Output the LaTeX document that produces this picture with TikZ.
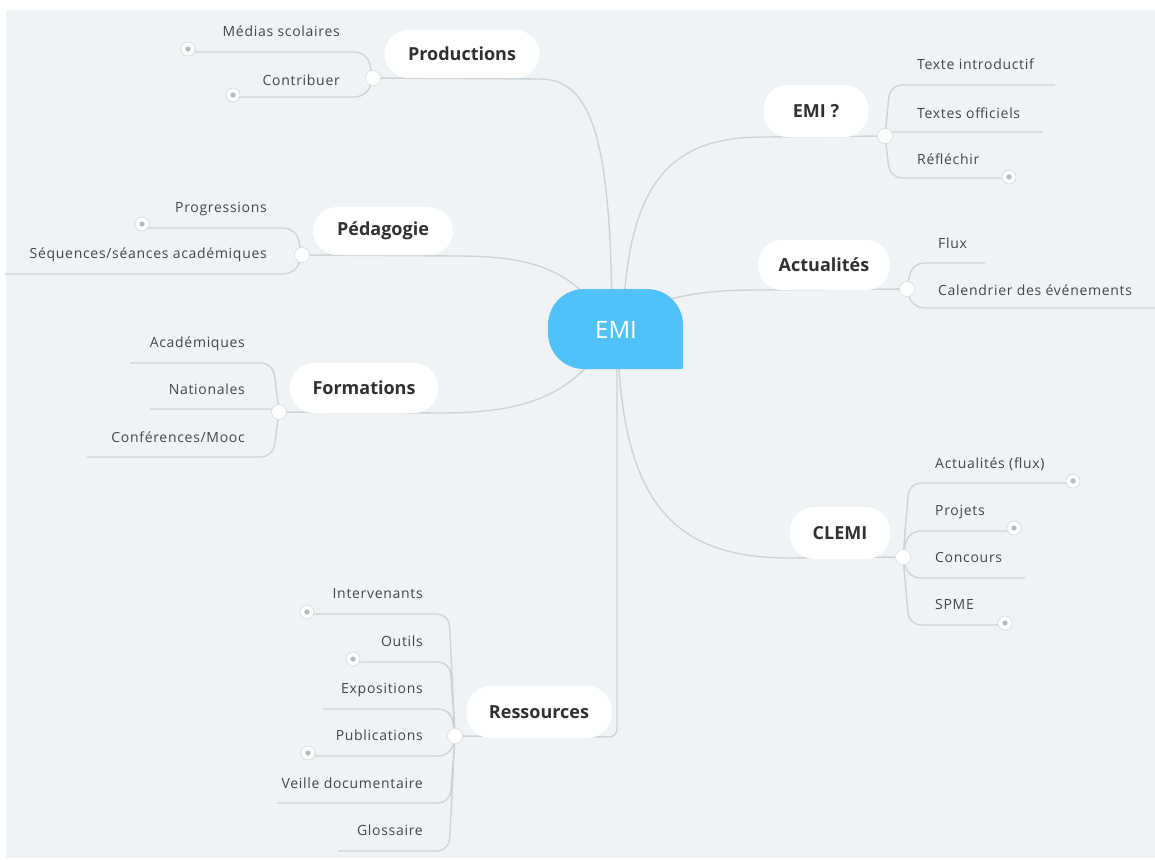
\documentclass[tikz,border=0pt]{standalone}
\usepackage{fontspec}
\setmainfont{Open Sans}
\newfontfamily\childfont[LetterSpace=5]{Open Sans}
\definecolor{bgc}{HTML}{EFF3F6}
\definecolor{linec}{HTML}{CDD2D7}
\definecolor{txtc}{HTML}{454545}
\definecolor{boldc}{HTML}{303030}
\definecolor{emic}{HTML}{50C2F8}
\definecolor{dotc}{HTML}{B4B9BE}
\tikzset{
  conn/.style={draw=linec, line width=1.4pt},
  sub/.style={draw=linec, line width=1.4pt, rounded corners=12pt},
  pill/.style={fill=white, rounded corners=24pt, inner sep=0pt, font=\fontsize{18}{20}\selectfont\bfseries, text=boldc},
  junc/.style={circle, fill=white, draw=linec!70, line width=0.6pt, minimum size=15pt, inner sep=0pt},
  coll/.style={circle, fill=white, draw=linec!80, line width=0.6pt, minimum size=14pt, inner sep=0pt,
     path picture={\fill[dotc] (path picture bounding box.center) circle (2.6pt);}},
  lt/.style={font=\childfont\fontsize{14}{16}\selectfont, text=txtc, inner sep=0pt},
}
\begin{document}
\begin{tikzpicture}[x=1pt,y=-1pt]
\useasboundingbox (0,0) rectangle (1155,859);
\fill[white] (0,0) rectangle (1155,859);
\fill[bgc] (6,10) rectangle (1155,858);

% ---- coordinates ----
\coordinate (o-prod) at (612,320);
\coordinate (o-emiq) at (623,320);
\coordinate (o-peda) at (600,312);
\coordinate (o-actu) at (650,305);
\coordinate (o-form) at (600,350);
\coordinate (o-clemi) at (618,350);
\coordinate (o-res) at (617,340);

% junctions
\node[junc] (jP) at (373,78) {};
\node[junc] (jPe) at (302,255) {};
\node[junc] (jF) at (279,412) {};
\node[junc] (jR) at (455,736) {};
\node[junc] (jE) at (885,136) {};
\node[junc] (jA) at (907,289) {};
\node[junc] (jC) at (903,557) {};

% ---- main connectors ----
\draw[conn] (o-prod) .. controls (611,140) and (592,79) .. (540,79) -- (jP.center);
\draw[conn] (o-emiq) .. controls (628,170) and (680,137) .. (765,137) -- (jE.center);
\draw[conn] (o-peda) .. controls (565,264) and (520,256) .. (455,256) -- (jPe.center);
\draw[conn] (o-actu) .. controls (690,292) and (720,290) .. (760,290) -- (jA.center);
\draw[conn] (o-form) .. controls (565,400) and (515,413) .. (440,413) -- (jF.center);
\draw[conn] (o-clemi) .. controls (624,510) and (680,558) .. (790,558) -- (jC.center);
\draw[conn, rounded corners=8pt] (o-res) -- (617,737) -- (jR.center);

% ---- central bubble ----
\fill[emic, rounded corners=36pt] (683,369) -- (548,369) -- (548,289) -- (683,289) -- (683,369);
\node[font=\fontsize{24}{28}\selectfont, text=white] (emi) at (616,330) {EMI};

% ---- sub connectors: Productions ----
\coordinate (e-medias) at (193,52);
\coordinate (e-contrib) at (238,97);
\node[coll] (c-medias) at (188,49) {};
\node[coll] (c-contrib) at (233,95) {};
\draw[sub] (jP.center) -- (367,52) -- (e-medias);
\draw[sub] (jP.center) -- (367,97) -- (e-contrib);

% Pédagogie
\coordinate (e-prog) at (147,228);
\coordinate (e-seq) at (5,274);
\node[coll] (c-prog) at (142,224) {};
\draw[sub] (jPe.center) -- (296,228) -- (e-prog);
\draw[sub] (jPe.center) -- (296,274) -- (e-seq);

% Formations
\coordinate (e-acad) at (130,363);
\coordinate (e-nat) at (150,409);
\coordinate (e-conf) at (87,457);
\draw[sub] (jF.center) -- (273,363) -- (e-acad);
\draw[sub, rounded corners=3pt] (jF.center) -- (276,409) -- (e-nat);
\draw[sub] (jF.center) -- (273,457) -- (e-conf);

% Ressources
\coordinate (e-inter) at (312,614);
\coordinate (e-outils) at (358,662);
\coordinate (e-expo) at (323,709);
\coordinate (e-publi) at (313,756);
\coordinate (e-veille) at (277,803);
\coordinate (e-gloss) at (338,851);
\node[coll] (c-inter) at (307,612) {};
\node[coll] (c-outils) at (353,659) {};
\node[coll] (c-publi) at (308,753) {};
\draw[sub] (jR.center) -- (449,614) -- (e-inter);
\draw[sub] (jR.center) -- (450,662) -- (e-outils);
\draw[sub] (jR.center) -- (451,709) -- (e-expo);
\draw[sub] (jR.center) -- (451,756) -- (e-publi);
\draw[sub] (jR.center) -- (450,803) -- (e-veille);
\draw[sub] (jR.center) -- (449,851) -- (e-gloss);

% EMI ?
\coordinate (e-intro) at (1055,85);
\coordinate (e-off) at (1043,132);
\coordinate (e-refl) at (1004,178);
\node[coll] (c-refl) at (1009,177) {};
\draw[sub] (jE.center) -- (890,85) -- (e-intro);
\draw[sub, rounded corners=3pt] (jE.center) -- (888,132) -- (e-off);
\draw[sub] (jE.center) -- (890,178) -- (e-refl);

% Actualités
\coordinate (e-flux) at (985,263);
\coordinate (e-cal) at (1155,308);
\draw[sub] (jA.center) -- (912,263) -- (e-flux);
\draw[sub] (jA.center) -- (912,308) -- (e-cal);

% CLEMI
\coordinate (e-aflux) at (1068,483);
\coordinate (e-proj) at (1009,531);
\coordinate (e-conc) at (1025,578);
\coordinate (e-spme) at (1000,625);
\node[coll] (c-aflux) at (1073,481) {};
\node[coll] (c-proj) at (1014,528) {};
\node[coll] (c-spme) at (1005,623) {};
\draw[sub] (jC.center) -- (909,483) -- (e-aflux);
\draw[sub] (jC.center) -- (908,531) -- (e-proj);
\draw[sub] (jC.center) -- (908,578) -- (e-conc);
\draw[sub] (jC.center) -- (909,625) -- (e-spme);

% redraw collapse markers on top of lines
\foreach \c in {c-medias,c-contrib,c-prog,c-inter,c-outils,c-publi,c-refl,c-aflux,c-proj,c-spme}{
  \node[coll] at (\c) {};
}

% ---- pills ----
\node[pill, minimum width=155pt, minimum height=48pt] (prod) at (462,54) {Productions};
\node[pill, minimum width=140pt, minimum height=48pt] (peda) at (383,231) {Pédagogie};
\node[pill, minimum width=148pt, minimum height=50pt] (form) at (364,388) {Formations};
\node[pill, minimum width=145pt, minimum height=52pt] (res) at (539,712) {Ressources};
\node[pill, minimum width=105pt, minimum height=52pt] (emiq) at (816,111) {EMI ?};
\node[pill, minimum width=132pt, minimum height=50pt] (actu) at (824,265) {Actualités};
\node[pill, minimum width=100pt, minimum height=52pt] (clemi) at (840,533) {CLEMI};

% junctions on top
\foreach \j in {jP,jPe,jF,jR,jE,jA,jC}{ \node[junc] at (\j) {}; }

% ---- texts ----
\node[lt, anchor=base east] (t-medias) at (340,37) {Médias scolaires};
\node[lt, anchor=base east] (t-contrib) at (340,85) {Contribuer};
\node[lt, anchor=base east] (t-prog) at (267,212) {Progressions};
\node[lt, anchor=base east] (t-seq) at (267,258) {Séquences/séances académiques};
\node[lt, anchor=base east] (t-acad) at (245,347) {Académiques};
\node[lt, anchor=base east] (t-nat) at (245,394) {Nationales};
\node[lt, anchor=base east] (t-conf) at (245,442) {Conférences/Mooc};
\node[lt, anchor=base east] (t-inter) at (423,598) {Intervenants};
\node[lt, anchor=base east] (t-outils) at (423,646) {Outils};
\node[lt, anchor=base east] (t-expo) at (423,693) {Expositions};
\node[lt, anchor=base east] (t-publi) at (423,740) {Publications};
\node[lt, anchor=base east] (t-veille) at (423,788) {Veille documentaire};
\node[lt, anchor=base east] (t-gloss) at (423,835) {Glossaire};
\node[lt, anchor=base west] (t-intro) at (917,70) {Texte introductif};
\node[lt, anchor=base west] (t-off) at (917,118) {Textes officiels};
\node[lt, anchor=base west] (t-refl) at (917,164) {Réfléchir};
\node[lt, anchor=base west] (t-flux) at (938,248) {Flux};
\node[lt, anchor=base west] (t-cal) at (938,295) {Calendrier des événements};
\node[lt, anchor=base west] (t-aflux) at (935,468) {Actualités (flux)};
\node[lt, anchor=base west] (t-proj) at (935,515) {Projets};
\node[lt, anchor=base west] (t-conc) at (935,562) {Concours};
\node[lt, anchor=base west] (t-spme) at (935,609) {SPME};
\end{tikzpicture}
\end{document}
